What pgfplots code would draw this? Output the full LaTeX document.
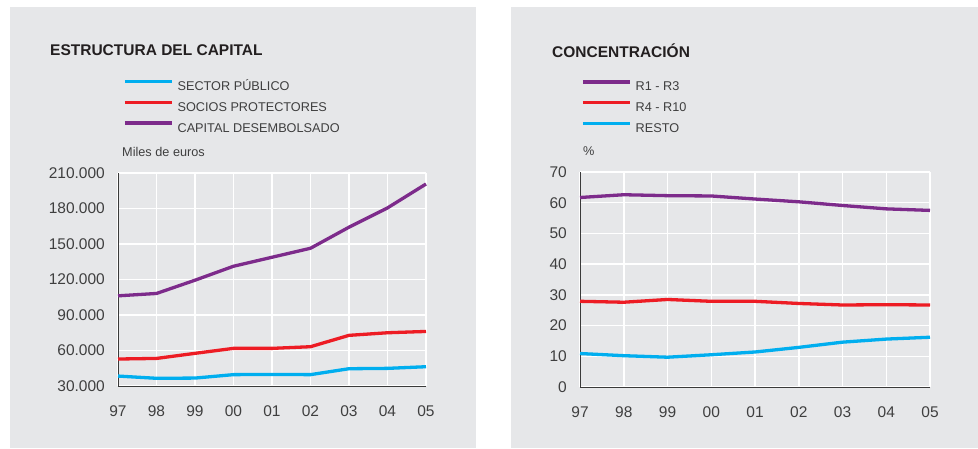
\documentclass[border=0pt]{standalone}
\usepackage{pgfplots}
\pgfplotsset{compat=1.18}
\usepackage{fontspec}
\setmainfont{Liberation Sans}
\definecolor{panelgray}{HTML}{E6E7E9}
\definecolor{cblue}{HTML}{00AEEF}
\definecolor{cred}{HTML}{ED1C24}
\definecolor{cpurple}{HTML}{7D2B8B}
\definecolor{txtdark}{HTML}{231F20}
\definecolor{txtgray}{HTML}{3F3F3F}
\definecolor{axisdark}{HTML}{3A3A3A}

\pgfplotsset{
  panelaxis/.style={
    scale only axis,
    axis background/.style={fill=panelgray},
    axis x line*=bottom, axis y line*=left,
    axis line style={draw=axisdark, line width=0.8pt, -},
    major tick length=0pt,
    grid=major,
    major grid style={draw=white, line width=1.5pt},
    xmin=0, xmax=8,
    xtick={0,...,8},
    xticklabels={97,98,99,00,01,02,03,04,05},
    tick label style={font=\fontsize{15.5}{17}\selectfont, text=txtgray},
    xticklabel style={anchor=north, inner sep=0pt, yshift=-19pt},
    yticklabel style={anchor=east, inner sep=0pt, xshift=-13pt},
    legend cell align=left,
    legend style={draw=none, fill=none, inner sep=0pt, outer sep=0pt,
      font=\fontsize{12.7}{14}\selectfont, text=txtgray,
      nodes={inner sep=0pt, text height=9pt, text depth=0pt},
      row sep=10pt, column sep=4pt, anchor=north west},
    legend image code/.code={\draw[#1, line width=3.6pt, line cap=butt] (0pt,4.5pt) -- (47pt,4.5pt);},
    every axis plot/.append style={line width=3.3pt, line join=round, mark=none},
    clip=false,
  }
}

\begin{document}
\begin{tikzpicture}
\fill[white] (0pt,0pt) rectangle (978pt,448pt);
\fill[panelgray] (10pt,0pt) rectangle (476pt,441pt);
\fill[panelgray] (511pt,0pt) rectangle (978pt,441pt);

\node[anchor=base west, inner sep=0pt, text=txtdark, font=\fontsize{15.5}{17}\selectfont\bfseries] at (50pt,392pt) {ESTRUCTURA DEL CAPITAL};
\node[anchor=base west, inner sep=0pt, text=txtgray, font=\fontsize{12.7}{14}\selectfont] at (122pt,291pt) {Miles de euros};

\node[anchor=base west, inner sep=0pt, text=txtdark, font=\fontsize{15.5}{17}\selectfont\bfseries] at (552pt,390pt) {CONCENTRACIÓN};
\node[anchor=base west, inner sep=0pt, text=txtgray, font=\fontsize{12.7}{14}\selectfont] at (583pt,292pt) {\%};

\begin{axis}[panelaxis,
  at={(118pt,62pt)}, anchor=south west,
  width=308pt, height=213pt,
  ymin=30000, ymax=210000, ytick={30000,60000,...,210000},
  scaled y ticks=false,
  yticklabel style={/pgf/number format/.cd, fixed, 1000 sep={.}, assume math mode=true},
  legend style={at={(axis description cs:0.0162,1.438)}},
]
\addplot[cblue] coordinates {(0,38400) (1,36500) (2,36700) (3,39600) (4,39800) (5,39600) (6,44600) (7,44900) (8,46300)};
\addlegendentry{SECTOR PÚBLICO}
\addplot[cred] coordinates {(0,52800) (1,53300) (2,57600) (3,61800) (4,61800) (5,63200) (6,72800) (7,75000) (8,76100)};
\addlegendentry{SOCIOS PROTECTORES}
\addplot[cpurple] coordinates {(0,106200) (1,108200) (2,119400) (3,131200) (4,138800) (5,146400) (6,164200) (7,180500) (8,200700)};
\addlegendentry{CAPITAL DESEMBOLSADO}
\end{axis}

\begin{axis}[panelaxis,
  at={(580pt,61pt)}, anchor=south west,
  width=350pt, height=215pt,
  ymin=0, ymax=70, ytick={0,10,...,70},
  yticklabel style={/pgf/number format/assume math mode=true},
  legend style={at={(axis description cs:0.003,1.428)}},
]
\addplot[cpurple] coordinates {(0,61.7) (1,62.6) (2,62.3) (3,62.2) (4,61.2) (5,60.3) (6,59.1) (7,58.0) (8,57.5)};
\addlegendentry{R1 - R3}
\addplot[cred] coordinates {(0,27.9) (1,27.6) (2,28.5) (3,27.9) (4,27.9) (5,27.2) (6,26.7) (7,26.8) (8,26.7)};
\addlegendentry{R4 - R10}
\addplot[cblue] coordinates {(0,10.9) (1,10.2) (2,9.7) (3,10.5) (4,11.4) (5,12.9) (6,14.6) (7,15.6) (8,16.2)};
\addlegendentry{RESTO}
\end{axis}
\end{tikzpicture}
\end{document}
